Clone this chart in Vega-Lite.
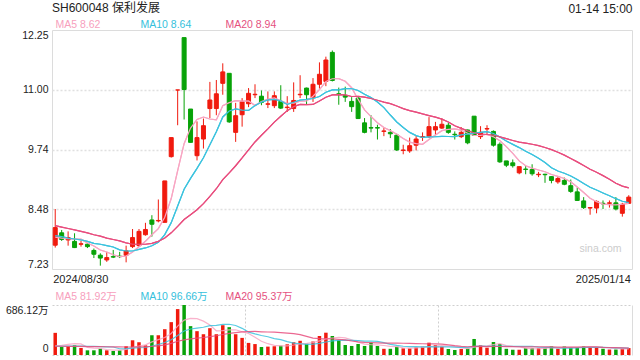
{
  "$schema": "https://vega.github.io/schema/vega-lite/v6.json",
  "background": "white",
  "padding": {"left": 5, "top": 1, "right": 6, "bottom": 4},
  "config": {
    "font": "Liberation Sans, Noto Sans CJK SC, sans-serif",
    "view": {"stroke": null},
    "axis": {"domain": false, "ticks": false, "tickSize": 0, "grid": false, "title": null, "labelColor": "#222", "labelFontSize": 10.5, "labelFont": "Liberation Sans, Noto Sans CJK SC, sans-serif"},
    "legend": {"labelFont": "Liberation Sans, Noto Sans CJK SC, sans-serif"},
    "title": {"font": "Liberation Sans, Noto Sans CJK SC, sans-serif", "fontWeight": "normal", "color": "#222"}
  },
  "datasets": {
    "k": [
      {"d":"2024/08/30","o":7.73,"h":8.49,"l":7.68,"c":8.10,"v":304,"dir":"up","m5":7.90,"m10":7.93,"m20":8.14,"v5":124,"v10":120,"v20":120},
      {"d":"2024/09/02","o":7.99,"h":8.05,"l":7.82,"c":7.85,"v":110,"dir":"down","m5":7.88,"m10":7.91,"m20":8.11,"v5":132,"v10":120,"v20":120},
      {"d":"2024/09/03","o":7.84,"h":8.02,"l":7.72,"c":7.89,"v":120,"dir":"up","m5":7.87,"m10":7.88,"m20":8.08,"v5":145,"v10":121,"v20":119},
      {"d":"2024/09/04","o":7.81,"h":7.98,"l":7.67,"c":7.68,"v":133,"dir":"down","m5":7.86,"m10":7.86,"m20":8.05,"v5":155,"v10":121,"v20":118},
      {"d":"2024/09/05","o":7.75,"h":7.82,"l":7.70,"c":7.76,"v":97,"dir":"up","m5":7.856,"m10":7.84,"m20":8.02,"v5":152.8,"v10":121,"v20":117},
      {"d":"2024/09/06","o":7.75,"h":7.77,"l":7.67,"c":7.70,"v":64,"dir":"down","m5":7.776,"m10":7.81,"m20":7.99,"v5":104.8,"v10":120,"v20":116},
      {"d":"2024/09/09","o":7.62,"h":7.66,"l":7.46,"c":7.54,"v":64,"dir":"down","m5":7.714,"m10":7.77,"m20":7.95,"v5":95.6,"v10":118,"v20":115},
      {"d":"2024/09/10","o":7.52,"h":7.56,"l":7.30,"c":7.46,"v":87,"dir":"down","m5":7.628,"m10":7.75,"m20":7.92,"v5":89.0,"v10":115,"v20":114},
      {"d":"2024/09/11","o":7.42,"h":7.58,"l":7.38,"c":7.47,"v":64,"dir":"up","m5":7.586,"m10":7.72,"m20":7.88,"v5":75.2,"v10":112,"v20":113},
      {"d":"2024/09/12","o":7.49,"h":7.63,"l":7.46,"c":7.48,"v":55,"dir":"down","m5":7.530,"m10":7.693,"m20":7.85,"v5":66.8,"v10":109.8,"v20":112},
      {"d":"2024/09/13","o":7.50,"h":7.59,"l":7.46,"c":7.49,"v":64,"dir":"down","m5":7.488,"m10":7.632,"m20":7.82,"v5":66.8,"v10":85.8,"v20":111},
      {"d":"2024/09/18","o":7.52,"h":7.72,"l":7.37,"c":7.61,"v":120,"dir":"up","m5":7.502,"m10":7.608,"m20":7.78,"v5":78.0,"v10":86.8,"v20":110},
      {"d":"2024/09/19","o":7.70,"h":8.07,"l":7.67,"c":7.89,"v":202,"dir":"up","m5":7.588,"m10":7.608,"m20":7.75,"v5":101.0,"v10":95.0,"v20":110},
      {"d":"2024/09/20","o":7.72,"h":8.07,"l":7.70,"c":8.02,"v":175,"dir":"up","m5":7.698,"m10":7.642,"m20":7.75,"v5":123.2,"v10":99.2,"v20":111},
      {"d":"2024/09/23","o":7.95,"h":8.20,"l":7.93,"c":8.06,"v":133,"dir":"up","m5":7.814,"m10":7.672,"m20":7.75,"v5":138.8,"v10":102.8,"v20":113},
      {"d":"2024/09/24","o":8.26,"h":8.36,"l":7.91,"c":8.17,"v":271,"dir":"down","m5":7.950,"m10":7.719,"m20":7.77,"v5":180.2,"v10":123.5,"v20":118},
      {"d":"2024/09/25","o":8.24,"h":8.69,"l":8.21,"c":8.25,"v":271,"dir":"up","m5":8.078,"m10":7.790,"m20":7.81,"v5":210.4,"v10":144.2,"v20":125},
      {"d":"2024/09/26","o":8.21,"h":9.08,"l":8.21,"c":9.08,"v":354,"dir":"up","m5":8.316,"m10":7.952,"m20":7.88,"v5":240.8,"v10":170.9,"v20":140},
      {"d":"2024/09/27","o":9.59,"h":9.99,"l":9.57,"c":9.99,"v":451,"dir":"up","m5":8.710,"m10":8.204,"m20":7.99,"v5":296.0,"v10":209.6,"v20":160},
      {"d":"2024/09/30","o":10.99,"h":10.99,"l":10.25,"c":10.99,"v":630,"dir":"up","m5":9.296,"m10":8.555,"m20":8.124,"v5":395.4,"v10":267.1,"v20":188.5},
      {"d":"2024/10/08","o":12.09,"h":12.09,"l":10.37,"c":11.00,"v":686.12,"dir":"down","m5":9.862,"m10":8.906,"m20":8.269,"v5":478.4,"v10":329.3,"v20":207.6},
      {"d":"2024/10/09","o":10.59,"h":10.59,"l":9.89,"c":9.89,"v":396,"dir":"down","m5":10.190,"m10":9.134,"m20":8.371,"v5":503.4,"v10":356.9,"v20":221.9},
      {"d":"2024/10/10","o":9.61,"h":10.33,"l":9.51,"c":9.99,"v":327,"dir":"up","m5":10.372,"m10":9.344,"m20":8.476,"v5":498.0,"v10":369.4,"v20":232.2},
      {"d":"2024/10/11","o":9.96,"h":10.39,"l":9.76,"c":10.24,"v":285,"dir":"up","m5":10.422,"m10":9.566,"m20":8.604,"v5":464.8,"v10":380.4,"v20":239.8},
      {"d":"2024/10/14","o":10.60,"h":11.16,"l":10.40,"c":10.78,"v":368,"dir":"up","m5":10.380,"m10":9.838,"m20":8.755,"v5":412.4,"v10":403.9,"v20":253.4},
      {"d":"2024/10/15","o":10.60,"h":11.20,"l":10.46,"c":10.91,"v":285,"dir":"up","m5":10.362,"m10":10.112,"m20":8.916,"v5":332.2,"v10":405.3,"v20":264.4},
      {"d":"2024/10/16","o":11.13,"h":11.55,"l":10.89,"c":11.37,"v":409,"dir":"up","m5":10.658,"m10":10.424,"m20":9.107,"v5":334.8,"v10":419.1,"v20":281.7},
      {"d":"2024/10/17","o":11.34,"h":11.34,"l":10.30,"c":10.32,"v":382,"dir":"down","m5":10.724,"m10":10.548,"m20":9.250,"v5":345.8,"v10":421.9,"v20":296.4},
      {"d":"2024/10/18","o":10.10,"h":10.72,"l":9.90,"c":10.45,"v":285,"dir":"up","m5":10.766,"m10":10.594,"m20":9.399,"v5":345.8,"v10":405.3,"v20":307.5},
      {"d":"2024/10/21","o":10.47,"h":10.82,"l":10.22,"c":10.74,"v":235,"dir":"up","m5":10.758,"m10":10.569,"m20":9.562,"v5":319.2,"v10":365.8,"v20":316.5},
      {"d":"2024/10/22","o":10.70,"h":11.03,"l":10.63,"c":10.92,"v":166,"dir":"up","m5":10.760,"m10":10.561,"m20":9.734,"v5":295.4,"v10":313.8,"v20":321.6},
      {"d":"2024/10/23","o":10.89,"h":11.11,"l":10.82,"c":10.90,"v":150,"dir":"up","m5":10.666,"m10":10.662,"m20":9.898,"v5":243.6,"v10":289.2,"v20":323.1},
      {"d":"2024/10/24","o":10.86,"h":10.98,"l":10.67,"c":10.73,"v":110,"dir":"down","m5":10.748,"m10":10.736,"m20":10.040,"v5":189.2,"v10":267.5,"v20":318.5},
      {"d":"2024/10/25","o":10.69,"h":10.96,"l":10.61,"c":10.70,"v":115,"dir":"up","m5":10.798,"m10":10.782,"m20":10.174,"v5":155.2,"v10":250.5,"v20":315.5},
      {"d":"2024/10/28","o":10.66,"h":10.96,"l":10.61,"c":10.87,"v":120,"dir":"up","m5":10.824,"m10":10.791,"m20":10.315,"v5":132.2,"v10":225.7,"v20":314.8},
      {"d":"2024/10/29","o":10.75,"h":11.09,"l":10.59,"c":10.61,"v":128,"dir":"down","m5":10.762,"m10":10.761,"m20":10.437,"v5":124.6,"v10":210.0,"v20":307.7},
      {"d":"2024/10/30","o":10.62,"h":10.86,"l":10.53,"c":10.63,"v":147,"dir":"up","m5":10.708,"m10":10.687,"m20":10.556,"v5":124.0,"v10":183.8,"v20":301.5},
      {"d":"2024/10/31","o":10.60,"h":11.15,"l":10.53,"c":10.77,"v":175,"dir":"up","m5":10.716,"m10":10.732,"m20":10.640,"v5":137.0,"v10":163.1,"v20":292.5},
      {"d":"2024/11/01","o":10.89,"h":11.30,"l":10.82,"c":10.90,"v":195,"dir":"up","m5":10.756,"m10":10.777,"m20":10.686,"v5":153.0,"v10":154.1,"v20":279.7},
      {"d":"2024/11/04","o":11.03,"h":11.04,"l":10.68,"c":10.89,"v":155,"dir":"down","m5":10.760,"m10":10.792,"m20":10.681,"v5":160.0,"v10":146.1,"v20":256.0},
      {"d":"2024/11/05","o":10.84,"h":11.24,"l":10.74,"c":11.11,"v":185,"dir":"up","m5":10.860,"m10":10.811,"m20":10.686,"v5":171.4,"v10":148.0,"v20":230.9},
      {"d":"2024/11/06","o":11.11,"h":11.57,"l":11.02,"c":11.32,"v":261,"dir":"up","m5":10.998,"m10":10.853,"m20":10.758,"v5":194.2,"v10":159.1,"v20":224.2},
      {"d":"2024/11/07","o":11.17,"h":11.69,"l":11.07,"c":11.62,"v":306,"dir":"up","m5":11.168,"m10":10.942,"m20":10.839,"v5":220.4,"v10":178.7,"v20":223.1},
      {"d":"2024/11/08","o":11.78,"h":11.82,"l":11.17,"c":11.19,"v":261,"dir":"down","m5":11.226,"m10":10.991,"m20":10.887,"v5":233.6,"v10":193.3,"v20":221.9},
      {"d":"2024/11/11","o":10.91,"h":11.04,"l":10.68,"c":10.90,"v":206,"dir":"down","m5":11.228,"m10":10.994,"m20":10.893,"v5":243.8,"v10":201.9,"v20":213.8},
      {"d":"2024/11/12","o":10.87,"h":11.06,"l":10.74,"c":10.84,"v":137,"dir":"down","m5":11.174,"m10":11.017,"m20":10.889,"v5":234.2,"v10":202.8,"v20":206.4},
      {"d":"2024/11/13","o":10.75,"h":10.84,"l":10.53,"c":10.64,"v":124,"dir":"down","m5":11.038,"m10":11.018,"m20":10.853,"v5":206.8,"v10":200.5,"v20":192.2},
      {"d":"2024/11/14","o":10.82,"h":10.86,"l":10.38,"c":10.39,"v":151,"dir":"down","m5":10.792,"m10":10.980,"m20":10.856,"v5":175.8,"v10":198.1,"v20":180.6},
      {"d":"2024/11/15","o":10.30,"h":10.40,"l":10.08,"c":10.10,"v":124,"dir":"down","m5":10.574,"m10":10.900,"m20":10.839,"v5":148.4,"v10":191.0,"v20":172.6},
      {"d":"2024/11/18","o":10.20,"h":10.46,"l":10.10,"c":10.19,"v":169,"dir":"down","m5":10.432,"m10":10.830,"m20":10.811,"v5":141.0,"v10":192.4,"v20":169.3},
      {"d":"2024/11/19","o":10.20,"h":10.26,"l":9.95,"c":10.19,"v":124,"dir":"down","m5":10.302,"m10":10.738,"m20":10.775,"v5":138.4,"v10":186.3,"v20":167.2},
      {"d":"2024/11/20","o":10.12,"h":10.19,"l":10.02,"c":10.13,"v":85,"dir":"up","m5":10.200,"m10":10.619,"m20":10.736,"v5":130.6,"v10":168.7,"v20":163.9},
      {"d":"2024/11/21","o":10.10,"h":10.17,"l":9.98,"c":10.07,"v":85,"dir":"down","m5":10.136,"m10":10.464,"m20":10.703,"v5":117.4,"v10":146.6,"v20":162.7},
      {"d":"2024/11/22","o":10.04,"h":10.07,"l":9.71,"c":9.73,"v":114,"dir":"down","m5":10.062,"m10":10.318,"m20":10.655,"v5":115.4,"v10":131.9,"v20":162.6},
      {"d":"2024/11/25","o":9.72,"h":9.84,"l":9.64,"c":9.73,"v":91,"dir":"up","m5":9.970,"m10":10.201,"m20":10.598,"v5":99.8,"v10":120.4,"v20":161.2},
      {"d":"2024/11/26","o":9.71,"h":9.99,"l":9.67,"c":9.82,"v":91,"dir":"up","m5":9.896,"m10":10.099,"m20":10.558,"v5":93.2,"v10":115.8,"v20":159.3},
      {"d":"2024/11/27","o":9.83,"h":10.02,"l":9.72,"c":9.96,"v":105,"dir":"up","m5":9.862,"m10":10.031,"m20":10.525,"v5":97.2,"v10":113.9,"v20":157.2},
      {"d":"2024/11/28","o":10.00,"h":10.10,"l":9.92,"c":10.01,"v":114,"dir":"up","m5":9.850,"m10":9.993,"m20":10.487,"v5":103.0,"v10":110.2,"v20":154.2},
      {"d":"2024/11/29","o":10.02,"h":10.42,"l":9.98,"c":10.22,"v":169,"dir":"up","m5":9.948,"m10":10.005,"m20":10.453,"v5":114.0,"v10":114.7,"v20":152.9},
      {"d":"2024/12/02","o":10.15,"h":10.32,"l":10.05,"c":10.22,"v":137,"dir":"up","m5":10.046,"m10":10.008,"m20":10.419,"v5":123.2,"v10":111.5,"v20":152.0},
      {"d":"2024/12/03","o":10.19,"h":10.39,"l":10.17,"c":10.27,"v":114,"dir":"up","m5":10.136,"m10":10.016,"m20":10.377,"v5":127.8,"v10":110.5,"v20":148.4},
      {"d":"2024/12/04","o":10.25,"h":10.30,"l":10.07,"c":10.10,"v":82,"dir":"down","m5":10.164,"m10":10.013,"m20":10.316,"v5":123.2,"v10":110.2,"v20":139.5},
      {"d":"2024/12/05","o":10.06,"h":10.12,"l":9.95,"c":10.05,"v":69,"dir":"down","m5":10.172,"m10":10.011,"m20":10.238,"v5":114.2,"v10":108.6,"v20":127.6},
      {"d":"2024/12/06","o":10.01,"h":10.21,"l":9.98,"c":10.10,"v":82,"dir":"up","m5":10.148,"m10":10.048,"m20":10.183,"v5":96.8,"v10":105.4,"v20":118.7},
      {"d":"2024/12/09","o":10.15,"h":10.16,"l":9.85,"c":9.88,"v":91,"dir":"down","m5":10.080,"m10":10.063,"m20":10.132,"v5":87.6,"v10":105.4,"v20":112.9},
      {"d":"2024/12/10","o":10.44,"h":10.44,"l":10.03,"c":10.04,"v":220,"dir":"down","m5":10.034,"m10":10.085,"m20":10.092,"v5":108.8,"v10":118.3,"v20":117.1},
      {"d":"2024/12/11","o":10.01,"h":10.23,"l":9.96,"c":10.10,"v":133,"dir":"up","m5":10.034,"m10":10.099,"m20":10.065,"v5":119.0,"v10":121.1,"v20":117.5},
      {"d":"2024/12/12","o":10.17,"h":10.25,"l":10.04,"c":10.18,"v":100,"dir":"up","m5":10.060,"m10":10.116,"m20":10.055,"v5":125.2,"v10":119.7,"v20":115.0},
      {"d":"2024/12/13","o":10.12,"h":10.14,"l":9.80,"c":9.83,"v":178,"dir":"down","m5":10.006,"m10":10.077,"m20":10.041,"v5":144.4,"v10":120.6,"v20":117.7},
      {"d":"2024/12/16","o":9.85,"h":9.89,"l":9.46,"c":9.48,"v":151,"dir":"down","m5":9.926,"m10":10.003,"m20":10.006,"v5":156.4,"v10":122.0,"v20":116.8},
      {"d":"2024/12/17","o":9.50,"h":9.50,"l":9.37,"c":9.41,"v":85,"dir":"down","m5":9.800,"m10":9.917,"m20":9.967,"v5":129.4,"v10":119.1,"v20":114.8},
      {"d":"2024/12/18","o":9.46,"h":9.53,"l":9.36,"c":9.40,"v":72,"dir":"down","m5":9.660,"m10":9.847,"m20":9.930,"v5":117.2,"v10":118.1,"v20":114.2},
      {"d":"2024/12/19","o":9.25,"h":9.38,"l":9.22,"c":9.38,"v":72,"dir":"up","m5":9.500,"m10":9.780,"m20":9.896,"v5":111.6,"v10":118.4,"v20":113.5},
      {"d":"2024/12/20","o":9.33,"h":9.39,"l":9.22,"c":9.32,"v":95,"dir":"down","m5":9.398,"m10":9.702,"m20":9.875,"v5":95.0,"v10":119.7,"v20":112.6},
      {"d":"2024/12/23","o":9.32,"h":9.43,"l":9.19,"c":9.23,"v":95,"dir":"down","m5":9.348,"m10":9.637,"m20":9.850,"v5":83.8,"v10":120.1,"v20":112.8},
      {"d":"2024/12/24","o":9.21,"h":9.27,"l":9.16,"c":9.22,"v":95,"dir":"up","m5":9.310,"m10":9.555,"m20":9.820,"v5":85.8,"v10":107.6,"v20":113.0},
      {"d":"2024/12/25","o":9.22,"h":9.23,"l":9.04,"c":9.21,"v":95,"dir":"down","m5":9.272,"m10":9.466,"m20":9.783,"v5":90.4,"v10":103.8,"v20":112.5},
      {"d":"2024/12/26","o":9.17,"h":9.18,"l":9.03,"c":9.09,"v":118,"dir":"down","m5":9.214,"m10":9.357,"m20":9.737,"v5":99.6,"v10":105.6,"v20":112.7},
      {"d":"2024/12/27","o":9.06,"h":9.17,"l":9.02,"c":9.13,"v":86,"dir":"up","m5":9.176,"m10":9.287,"m20":9.682,"v5":97.8,"v10":96.4,"v20":108.5},
      {"d":"2024/12/30","o":9.09,"h":9.15,"l":8.99,"c":9.01,"v":118,"dir":"down","m5":9.132,"m10":9.240,"m20":9.622,"v5":102.4,"v10":93.1,"v20":107.6},
      {"d":"2024/12/31","o":8.98,"h":9.11,"l":8.83,"c":8.86,"v":105,"dir":"down","m5":9.060,"m10":9.185,"m20":9.551,"v5":104.4,"v10":95.1,"v20":107.1},
      {"d":"2025/01/02","o":8.85,"h":8.94,"l":8.66,"c":8.67,"v":105,"dir":"down","m5":8.952,"m10":9.112,"m20":9.480,"v5":106.4,"v10":98.4,"v20":108.3},
      {"d":"2025/01/03","o":8.66,"h":8.74,"l":8.49,"c":8.52,"v":118,"dir":"down","m5":8.838,"m10":9.026,"m20":9.403,"v5":106.4,"v10":103.0,"v20":110.7},
      {"d":"2025/01/06","o":8.51,"h":8.53,"l":8.37,"c":8.52,"v":105,"dir":"up","m5":8.716,"m10":8.946,"m20":9.324,"v5":110.2,"v10":104.0,"v20":111.9},
      {"d":"2025/01/07","o":8.51,"h":8.67,"l":8.40,"c":8.65,"v":105,"dir":"up","m5":8.644,"m10":8.888,"m20":9.263,"v5":107.6,"v10":105.0,"v20":112.6},
      {"d":"2025/01/08","o":8.61,"h":8.67,"l":8.49,"c":8.60,"v":86,"dir":"down","m5":8.592,"m10":8.826,"m20":9.191,"v5":103.8,"v10":104.1,"v20":105.9},
      {"d":"2025/01/09","o":8.61,"h":8.67,"l":8.52,"c":8.62,"v":75,"dir":"up","m5":8.582,"m10":8.767,"m20":9.117,"v5":97.8,"v10":102.1,"v20":103.0},
      {"d":"2025/01/10","o":8.62,"h":8.74,"l":8.46,"c":8.49,"v":75,"dir":"down","m5":8.576,"m10":8.707,"m20":9.032,"v5":89.2,"v10":97.8,"v20":101.7},
      {"d":"2025/01/13","o":8.40,"h":8.62,"l":8.33,"c":8.59,"v":86,"dir":"up","m5":8.590,"m10":8.653,"m20":8.970,"v5":85.4,"v10":97.8,"v20":97.1},
      {"d":"2025/01/14","o":8.61,"h":8.78,"l":8.60,"c":8.74,"v":95,"dir":"up","m5":8.608,"m10":8.626,"m20":8.933,"v5":83.4,"v10":95.5,"v20":94.3}
    ]
  },
  "title": {"text": "01-14 15:00", "anchor": "end", "fontSize": 12, "dy": 18},
  "spacing": 36,
  "bounds": "flush",
  "resolve": {"scale": {"stroke": "independent", "fill": "independent"}},
  "vconcat": [
    {
      "width": 580,
      "height": 239,
      "view": {"stroke": "#dcdcdc", "strokeWidth": 1},
      "title": {"text": "SH600048 保利发展", "anchor": "start", "frame": "group", "fontSize": 12, "offset": 5},
      "data": {"name": "k"},
      "encoding": {
        "x": {"field": "d", "type": "ordinal", "sort": null, "scale": {"paddingInner": 0, "paddingOuter": 0},
              "axis": {"values": ["2024/08/30", "2025/01/14"], "labelAngle": 0, "labelFontSize": 11, "labelFlush": 10, "labelFlushOffset": 2, "labelPadding": 4}}
      },
      "layer": [
        {
          "transform": [{"fold": ["m5", "m10", "m20"], "as": ["k2", "val"]}],
          "mark": {"type": "line", "strokeWidth": 1.2},
          "encoding": {
            "y": {"field": "val", "type": "quantitative", "scale": {"domain": [7.23, 12.25], "nice": false, "zero": false},
                  "axis": {"orient": "right", "values": [7.656], "labelExpr": "'sina.com'", "labelColor": "#cccccc", "labelFontSize": 10.5, "labelAlign": "right", "labelPadding": -11, "labelBaseline": "middle"}},
            "stroke": {"field": "k2", "type": "nominal", "scale": {"domain": ["up", "down", "m5", "m10", "m20"], "range": ["#f01a0e", "#08a208", "#f8a6c3", "#3cc3de", "#e84d7e"]},
                       "legend": {"title": null, "orient": "none", "legendX": -7, "legendY": -10, "direction": "horizontal", "values": ["m5", "m10", "m20"],
                                  "symbolSize": 0, "symbolStrokeWidth": 0, "symbolOpacity": 0, "labelOffset": 0, "labelFontSize": 10.5, "gridAlign": "all", "columnPadding": 23,
                                  "labelExpr": "{'m5': 'MA5 8.62', 'm10': 'MA10 8.64', 'm20': 'MA20 8.94'}[datum.value]",
                                  "labelColor": {"expr": "{'m5': '#f7a0bd', 'm10': '#35bfdc', 'm20': '#e5517f'}[datum.value]"}}}
          }
        },
        {
          "mark": {"type": "rule", "strokeWidth": 1},
          "encoding": {
            "y": {"field": "l", "type": "quantitative", "scale": {"domain": [7.23, 12.25], "nice": false, "zero": false},
                  "axis": {"values": [7.23, 8.48, 9.74, 11.0, 12.25], "format": ".2f", "labelFlush": true, "labelPadding": 4, "grid": true, "gridColor": "#e0e0e0", "gridDash": [2, 2], "gridWidth": 1.5,
                           "gridOpacity": {"condition": {"test": "datum.value > 7.3 && datum.value < 12.2", "value": 1}, "value": 0}}},
            "y2": {"field": "h"},
            "stroke": {"field": "dir", "type": "nominal"}
          }
        },
        {
          "mark": {"type": "bar", "size": 4, "strokeWidth": 1},
          "encoding": {
            "y": {"field": "o", "type": "quantitative", "scale": {"domain": [7.23, 12.25], "nice": false, "zero": false}, "axis": null},
            "y2": {"field": "c"},
            "fill": {"field": "dir", "type": "nominal", "scale": {"domain": ["up", "down"], "range": ["#f01a0e", "#08a208"]}, "legend": null},
            "stroke": {"field": "dir", "type": "nominal"}
          }
        },
        {
          "transform": [{"fold": ["m5", "m10", "m20"], "as": ["k2", "val"]}],
          "mark": {"type": "line", "strokeWidth": 1.2},
          "encoding": {
            "y": {"field": "val", "type": "quantitative", "scale": {"domain": [7.23, 12.25], "nice": false, "zero": false}, "axis": null},
            "stroke": {"field": "k2", "type": "nominal"}
          }
        }
      ],
      "resolve": {"axis": {"y": "independent"}}
    },
    {
      "width": 580,
      "height": 50,
      "data": {"name": "k"},
      "encoding": {
        "x": {"field": "d", "type": "ordinal", "sort": null, "scale": {"paddingInner": 0, "paddingOuter": 0},
              "axis": {"values": ["2024/10/22", "2024/12/03"], "bandPosition": 0, "labels": false, "grid": true, "gridColor": "#cfcfcf", "gridDash": [2, 2], "gridWidth": 1}}
      },
      "layer": [
        {
          "mark": {"type": "bar", "size": 3.5},
          "encoding": {
            "y": {"field": "v", "type": "quantitative", "scale": {"domain": [0, 686.12], "nice": false},
                  "axis": {"values": [0, 686.12], "labelExpr": "datum.value == 0 ? '0' : '686.12万'", "labelFlush": true, "labelPadding": 4,
                           "labelOffset": {"condition": {"test": "datum.value == 0", "value": -2}, "value": 0},
                           "grid": true, "gridColor": "#cfcfcf", "gridDash": [2, 2], "gridWidth": 1}},
            "fill": {"field": "dir", "type": "nominal", "scale": {"domain": ["up", "down"], "range": ["#f01a0e", "#08a208"]}, "legend": null}
          }
        },
        {
          "transform": [{"fold": ["v5", "v10", "v20"], "as": ["k2", "val"]}],
          "mark": {"type": "line", "strokeWidth": 1.2, "opacity": 0.85},
          "encoding": {
            "y": {"field": "val", "type": "quantitative", "scale": {"domain": [0, 686.12], "nice": false},
                  "axis": {"orient": "right", "labels": false, "domain": true, "domainColor": "#dcdcdc", "grid": false}},
            "stroke": {"field": "k2", "type": "nominal", "scale": {"domain": ["v5", "v10", "v20"], "range": ["#f8a6c3", "#3cc3de", "#e84d7e"]},
                       "legend": {"title": null, "orient": "none", "legendX": -7, "legendY": -13, "direction": "horizontal",
                                  "symbolSize": 0, "symbolStrokeWidth": 0, "symbolOpacity": 0, "labelOffset": 0, "labelFontSize": 10.5, "gridAlign": "all", "columnPadding": 7,
                                  "labelExpr": "{'v5': 'MA5 81.92万', 'v10': 'MA10 96.66万', 'v20': 'MA20 95.37万'}[datum.value]",
                                  "labelColor": {"expr": "{'v5': '#f7a0bd', 'v10': '#35bfdc', 'v20': '#e5517f'}[datum.value]"}}}
          }
        }
      ],
      "resolve": {"axis": {"y": "independent"}}
    }
  ]
}
